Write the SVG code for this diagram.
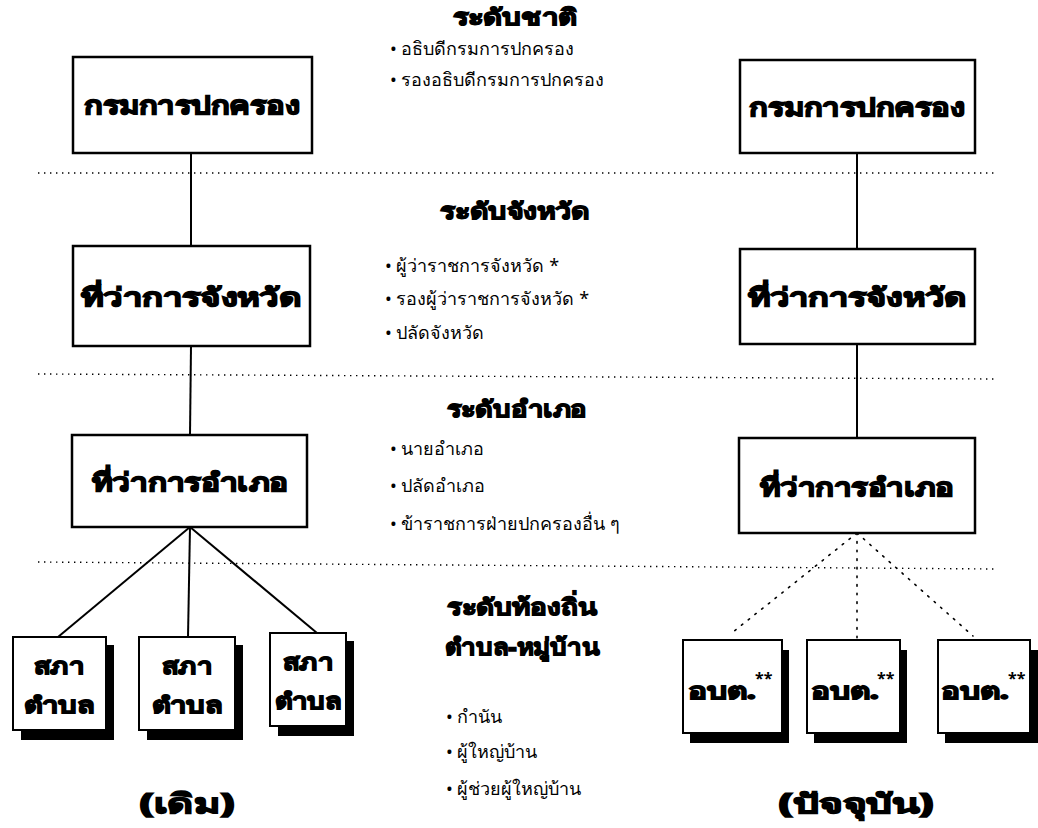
<svg xmlns="http://www.w3.org/2000/svg" width="1038" height="828" viewBox="0 0 1038 828">
<style>
.box{fill:#fff;stroke:#000;stroke-width:2.5}
.sbox{fill:#fff;stroke:#000;stroke-width:2}
.shadow{fill:#000}
.conn{stroke:#000;stroke-width:2;fill:none}
.dconn{stroke:#000;stroke-width:1.6;fill:none;stroke-dasharray:1.6 7;stroke-linecap:round}
.sep{stroke:#000;stroke-width:1.4;fill:none;stroke-dasharray:1.4 4.6}
.head{font-family:"Noto Sans","DejaVu Sans",sans-serif;font-weight:900;font-size:23px;fill:#000;stroke:#000;stroke-width:1.3}
.lbl{font-family:"Noto Sans","DejaVu Sans",sans-serif;font-weight:900;font-size:25px;fill:#000;stroke:#000;stroke-width:1.4}
.sm{font-family:"Noto Sans","DejaVu Sans",sans-serif;font-weight:900;font-size:22px;fill:#000;stroke:#000;stroke-width:1.3}
.item{font-family:"Noto Sans","DejaVu Sans",sans-serif;font-size:18px;fill:#000}
.star{font-family:"Noto Sans","DejaVu Sans",sans-serif;font-weight:700;font-size:16px;fill:#000}
.cap{font-family:"Noto Sans","DejaVu Sans",sans-serif;font-weight:900;font-size:27px;fill:#000;stroke:#000;stroke-width:1.4}
</style>
<rect width="1038" height="828" fill="#fff"/>
<g id="separators">
<line class="sep" x1="38" y1="173" x2="995" y2="173"/>
<line class="sep" x1="38" y1="374" x2="995" y2="379"/>
<line class="sep" x1="38" y1="562" x2="995" y2="569"/>
</g>
<g id="connectors">
<line class="conn" x1="191" y1="153" x2="191" y2="246"/>
<line class="conn" x1="191" y1="346" x2="190" y2="435"/>
<line class="conn" x1="190" y1="527" x2="58" y2="637"/>
<line class="conn" x1="190" y1="527" x2="188" y2="637"/>
<line class="conn" x1="190" y1="527" x2="317" y2="633"/>
<line class="conn" x1="857" y1="153" x2="857" y2="249"/>
<line class="conn" x1="857" y1="344" x2="857" y2="438"/>
<line class="dconn" x1="857" y1="533" x2="733" y2="632"/>
<line class="dconn" x1="857" y1="533" x2="857" y2="640"/>
<line class="dconn" x1="857" y1="533" x2="973" y2="636"/>
</g>
<g id="headings">
<text class="head" x="515" y="25" text-anchor="middle" textLength="125" lengthAdjust="spacingAndGlyphs">ระดับชาติ</text>
<text class="head" x="515" y="219" text-anchor="middle" textLength="150" lengthAdjust="spacingAndGlyphs">ระดับจังหวัด</text>
<text class="head" x="517" y="417" text-anchor="middle" textLength="140" lengthAdjust="spacingAndGlyphs">ระดับอำเภอ</text>
<text class="head" x="522" y="615" text-anchor="middle" textLength="150" lengthAdjust="spacingAndGlyphs">ระดับท้องถิ่น</text>
<text class="head" x="522" y="655" text-anchor="middle" textLength="155" lengthAdjust="spacingAndGlyphs">ตำบล-หมู่บ้าน</text>
</g>
<g id="items">
<text class="item" x="390" y="55">• อธิบดีกรมการปกครอง</text>
<text class="item" x="390" y="86">• รองอธิบดีกรมการปกครอง</text>
<text class="item" x="385" y="272">• ผู้ว่าราชการจังหวัด *</text>
<text class="item" x="385" y="305">• รองผู้ว่าราชการจังหวัด *</text>
<text class="item" x="385" y="339">• ปลัดจังหวัด</text>
<text class="item" x="390" y="455">• นายอำเภอ</text>
<text class="item" x="390" y="492">• ปลัดอำเภอ</text>
<text class="item" x="390" y="530">• ข้าราชการฝ่ายปกครองอื่น ๆ</text>
<text class="item" x="446" y="723">• กำนัน</text>
<text class="item" x="446" y="758">• ผู้ใหญ่บ้าน</text>
<text class="item" x="446" y="795">• ผู้ช่วยผู้ใหญ่บ้าน</text>
</g>
<g id="n-krom-old"><rect class="box" x="73" y="57" width="239" height="96"/><text class="lbl" x="192" y="114" text-anchor="middle" textLength="216" lengthAdjust="spacingAndGlyphs">กรมการปกครอง</text></g>
<g id="n-changwat-old"><rect class="box" x="73" y="246" width="237" height="100"/><text class="lbl" x="191" y="306" text-anchor="middle" textLength="220" lengthAdjust="spacingAndGlyphs">ที่ว่าการจังหวัด</text></g>
<g id="n-amphoe-old"><rect class="box" x="72" y="435" width="235" height="92"/><text class="lbl" x="190" y="491" text-anchor="middle" textLength="196" lengthAdjust="spacingAndGlyphs">ที่ว่าการอำเภอ</text></g>
<g id="n-krom-new"><rect class="box" x="740" y="60" width="235" height="93"/><text class="lbl" x="857" y="116" text-anchor="middle" textLength="216" lengthAdjust="spacingAndGlyphs">กรมการปกครอง</text></g>
<g id="n-changwat-new"><rect class="box" x="740" y="249" width="235" height="95"/><text class="lbl" x="857" y="306" text-anchor="middle" textLength="218" lengthAdjust="spacingAndGlyphs">ที่ว่าการจังหวัด</text></g>
<g id="n-amphoe-new"><rect class="box" x="739" y="438" width="236" height="95"/><text class="lbl" x="857" y="496" text-anchor="middle" textLength="194" lengthAdjust="spacingAndGlyphs">ที่ว่าการอำเภอ</text></g>
<g id="n-sapha-1"><rect class="shadow" x="21" y="645" width="93" height="95"/><rect class="sbox" x="13" y="637" width="93" height="93"/><text class="sm" x="59" y="674" text-anchor="middle" textLength="50" lengthAdjust="spacingAndGlyphs">สภา</text><text class="sm" x="59" y="713" text-anchor="middle" textLength="70" lengthAdjust="spacingAndGlyphs">ตำบล</text></g>
<g id="n-sapha-2"><rect class="shadow" x="147" y="645" width="96" height="95"/><rect class="sbox" x="139" y="637" width="96" height="93"/><text class="sm" x="187" y="674" text-anchor="middle" textLength="50" lengthAdjust="spacingAndGlyphs">สภา</text><text class="sm" x="187" y="713" text-anchor="middle" textLength="70" lengthAdjust="spacingAndGlyphs">ตำบล</text></g>
<g id="n-sapha-3"><rect class="shadow" x="278" y="641" width="76" height="95"/><rect class="sbox" x="270" y="633" width="76" height="93"/><text class="sm" x="308" y="670" text-anchor="middle" textLength="50" lengthAdjust="spacingAndGlyphs">สภา</text><text class="sm" x="308" y="709" text-anchor="middle" textLength="66" lengthAdjust="spacingAndGlyphs">ตำบล</text></g>
<g id="n-obt-1"><rect class="shadow" x="690" y="650" width="99" height="93"/><rect class="sbox" x="683" y="640" width="99" height="93"/><text class="sm" x="722" y="699" text-anchor="middle" textLength="68" lengthAdjust="spacingAndGlyphs">อบต.</text><text class="star" x="755" y="684">**</text></g>
<g id="n-obt-2"><rect class="shadow" x="814" y="650" width="93" height="93"/><rect class="sbox" x="807" y="640" width="93" height="93"/><text class="sm" x="845" y="699" text-anchor="middle" textLength="68" lengthAdjust="spacingAndGlyphs">อบต.</text><text class="star" x="877" y="684">**</text></g>
<g id="n-obt-3"><rect class="shadow" x="945" y="650" width="93" height="93"/><rect class="sbox" x="938" y="640" width="92" height="93"/><text class="sm" x="975" y="699" text-anchor="middle" textLength="68" lengthAdjust="spacingAndGlyphs">อบต.</text><text class="star" x="1008" y="684">**</text></g>
<g id="captions">
<text class="cap" x="187" y="813" text-anchor="middle" textLength="95" lengthAdjust="spacingAndGlyphs">(เดิม)</text>
<text class="cap" x="856" y="813" text-anchor="middle" textLength="155" lengthAdjust="spacingAndGlyphs">(ปัจจุบัน)</text>
</g>
</svg>
